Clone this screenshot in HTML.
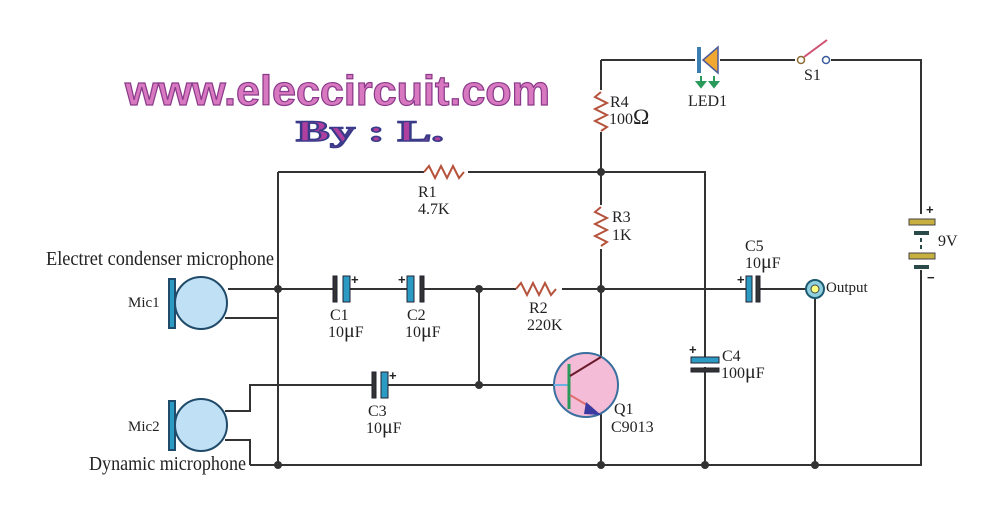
<!DOCTYPE html>
<html><head><style>body{margin:0;background:#fff}svg{display:block}</style></head><body>
<svg width="1000" height="521" viewBox="0 0 1000 521" xmlns="http://www.w3.org/2000/svg" font-family="Liberation Serif, serif">
<rect width="1000" height="521" fill="#fff"/>
<g stroke="#333" stroke-width="2" fill="none">
<path d="M601 60H921V465H250"/>
<path d="M601 60V465"/>
<path d="M278 172H705V465"/>
<path d="M278 172V465"/>
<path d="M228 289H815V465"/>
<path d="M225 318H278"/>
<path d="M479 289V385"/>
<path d="M225 411H250V385H555"/>
<path d="M225 440H250V465"/>
</g>
<g fill="#fff">
<rect x="424" y="165" width="44" height="14"/>
<rect x="594" y="90" width="14" height="42"/>
<rect x="594" y="205" width="14" height="44"/>
<rect x="516" y="282" width="46" height="14"/>
<rect x="695" y="53" width="25" height="14"/>
<rect x="795" y="53" width="36" height="14"/>
<rect x="914" y="214" width="14" height="56"/>
<rect x="337" y="282" width="6" height="14"/><rect x="414" y="282" width="6" height="14"/>
<rect x="376" y="378" width="5" height="14"/>
<rect x="750" y="282" width="6" height="14"/>
<rect x="698" y="357" width="14" height="10"/>
</g>
<g stroke="#b5533c" stroke-width="2" fill="none">
<path d="M424 172l5-6 6 12 6-12 6 12 6-12 6 12 5-6"/>
<path d="M601 92l-6 5 12 6-12 6 12 6-12 6 12 6-6 4"/>
<path d="M601 207l-6 5 12 6-12 6 12 6-12 6 12 6-6 4"/>
<path d="M516 289l5-6 6 12 6-12 6 12 6-12 6 12 5-6"/>
</g>
<g stroke="#223" stroke-width="1">
<rect x="333" y="276" width="4" height="26" fill="#333"/>
<rect x="343" y="276" width="7" height="26" fill="#2b9bc4"/>
<rect x="407" y="276" width="7" height="26" fill="#2b9bc4"/>
<rect x="420" y="276" width="4" height="26" fill="#333"/>
<rect x="372" y="372" width="4" height="26" fill="#333"/>
<rect x="381" y="372" width="7" height="26" fill="#2b9bc4"/>
<rect x="746" y="276" width="6" height="26" fill="#2b9bc4"/>
<rect x="756" y="276" width="4" height="26" fill="#333"/>
<rect x="691" y="357" width="28" height="6" fill="#2b9bc4"/>
<rect x="691" y="368" width="28" height="4" fill="#333"/>
</g>
<g font-family="Liberation Sans, sans-serif" font-weight="bold" font-size="13" fill="#222">
<text x="351" y="284">+</text><text x="398" y="284">+</text><text x="389" y="380">+</text>
<text x="737" y="284">+</text><text x="689" y="354">+</text>
<text x="926" y="214">+</text><text x="927" y="282">−</text>
</g>
<g stroke="#1f4a6a" stroke-width="2">
<circle cx="201" cy="303" r="26" fill="#bfe0f5"/>
<circle cx="201" cy="425" r="26" fill="#bfe0f5"/>
<rect x="169" y="279" width="6" height="49" fill="#2b9bc4"/>
<rect x="169" y="401" width="6" height="49" fill="#2b9bc4"/>
</g>
<circle cx="586" cy="385" r="32" fill="#f4bcd6" stroke="#3a6fa0" stroke-width="2"/>
<path d="M554 385H568" stroke="#6ab0e0" stroke-width="2"/>
<path d="M569 364V409" stroke="#2a9a5a" stroke-width="3"/>
<path d="M570 376L601 357" stroke="#6a1a2a" stroke-width="2"/>
<path d="M570 395L592 408" stroke="#e07070" stroke-width="2"/>
<path d="M586 402L601 415L584 414Z" fill="#3a3aa0"/>
<rect x="697" y="47" width="4" height="26" fill="#3a7fb0"/>
<path d="M718 47V73L703 60Z" fill="#f0a830" stroke="#4a5a9a" stroke-width="1.5"/>
<g stroke="#2a9a5a" stroke-width="2" fill="#2a9a5a"><path d="M701 76V84M714 76V84"/><path d="M697 82h8l-4 5zM710 82h8l-4 5z"/></g>
<circle cx="801" cy="60" r="3.5" fill="#fff" stroke="#8a6a30" stroke-width="1.5"/>
<circle cx="826" cy="60" r="3.5" fill="#fff" stroke="#3a5aa0" stroke-width="1.5"/>
<path d="M804 57L827 40" stroke="#d05070" stroke-width="2"/>
<g fill="#c8b040" stroke="#444" stroke-width="1">
<rect x="909" y="219" width="26" height="6"/><rect x="909" y="253" width="26" height="6"/></g>
<g fill="#2a4a4a"><rect x="914" y="231" width="15" height="4"/><rect x="914" y="265" width="15" height="4"/><rect x="920" y="238" width="2" height="4"/><rect x="920" y="245" width="2" height="4"/></g>
<circle cx="815" cy="289" r="9" fill="#8fd0e0" stroke="#1f5a70" stroke-width="2"/>
<circle cx="815" cy="289" r="4" fill="#ffff80" stroke="#444" stroke-width="1"/>
<g fill="#333">
<circle cx="601" cy="172" r="4"/><circle cx="278" cy="289" r="4"/><circle cx="479" cy="289" r="4"/>
<circle cx="601" cy="289" r="4"/><circle cx="479" cy="385" r="4"/><circle cx="278" cy="465" r="4"/>
<circle cx="601" cy="465" r="4"/><circle cx="705" cy="465" r="4"/><circle cx="815" cy="465" r="4"/>
</g>
<g font-size="16" fill="#222">
<text x="418" y="197">R1</text><text x="418" y="214">4.7K</text>
<text x="610" y="107">R4</text><text x="609" y="124">100<tspan font-size="22">Ω</tspan></text>
<text x="612" y="222">R3</text><text x="612" y="240">1K</text>
<text x="529" y="313">R2</text><text x="527" y="330">220K</text>
<text x="330" y="320">C1</text><text x="328" y="337">10<tspan font-size="20">μ</tspan>F</text>
<text x="407" y="320">C2</text><text x="405" y="337">10<tspan font-size="20">μ</tspan>F</text>
<text x="368" y="416">C3</text><text x="366" y="433">10<tspan font-size="20">μ</tspan>F</text>
<text x="745" y="251">C5</text><text x="745" y="268">10<tspan font-size="20">μ</tspan>F</text>
<text x="722" y="361">C4</text><text x="721" y="378">100<tspan font-size="20">μ</tspan>F</text>
<text x="614" y="414">Q1</text><text x="611" y="432">C9013</text>
<text x="688" y="106">LED1</text><text x="804" y="80">S1</text>
<text x="938" y="246">9V</text>
<text x="826" y="292" font-size="15">Output</text>
<text x="128" y="307" font-size="15">Mic1</text>
<text x="128" y="431" font-size="15">Mic2</text>
<text x="46" y="265" font-size="20" textLength="228" lengthAdjust="spacingAndGlyphs">Electret condenser microphone</text>
<text x="89" y="470" font-size="20" textLength="157" lengthAdjust="spacingAndGlyphs">Dynamic microphone</text>
</g>
<text x="125" y="105" font-family="Liberation Sans, sans-serif" font-weight="bold" font-size="42" fill="#d878c0" stroke="#8a3a8a" stroke-width="1.2" textLength="425" lengthAdjust="spacingAndGlyphs">www.eleccircuit.com</text>
<text x="296" y="141" font-family="Liberation Serif, serif" font-weight="bold" font-size="30" fill="#b040a0" stroke="#3a3a8a" stroke-width="1.5" textLength="148" lengthAdjust="spacingAndGlyphs">By : L.</text>
</svg>
</body></html>
